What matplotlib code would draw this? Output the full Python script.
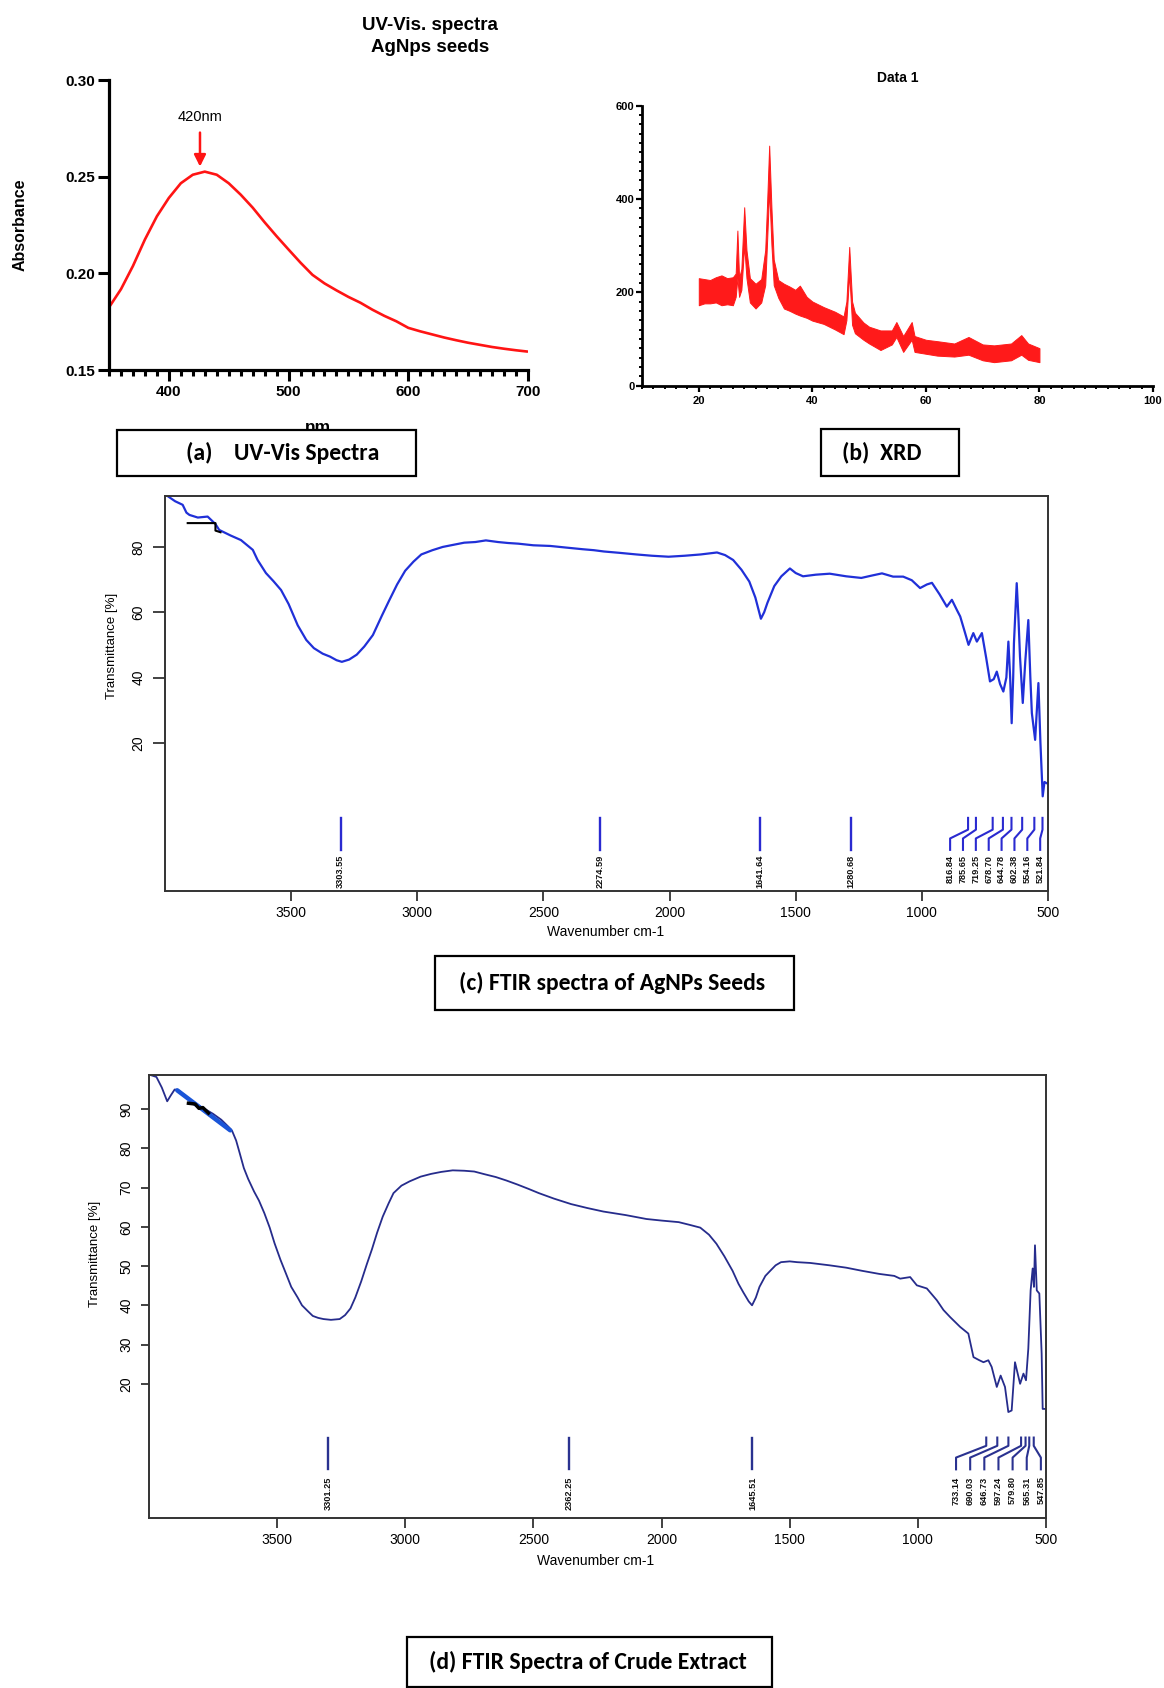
import matplotlib
matplotlib.use('Agg')
import numpy as np
import matplotlib.pyplot as plt
from matplotlib.patches import Rectangle
from matplotlib.ticker import MultipleLocator, FormatStrFormatter
from matplotlib import font_manager

plt.rcParams['font.family'] = ['Liberation Sans', 'DejaVu Sans']

# ---------------- data ----------------
uv_nm = [350, 360, 370, 380, 390, 400, 410, 420, 430, 440, 450, 460, 470, 480,
         490, 500, 510, 520, 530, 540, 550, 560, 570, 580, 590, 600, 610, 620,
         630, 640, 650, 660, 670, 680, 690, 700]
uv_abs = [0.1824, 0.1918, 0.2038, 0.2175, 0.2295, 0.2390, 0.2466, 0.2510, 0.2526,
          0.2510, 0.2466, 0.2407, 0.2340, 0.2264, 0.2192, 0.2123, 0.2055, 0.1992,
          0.1948, 0.1912, 0.1878, 0.1848, 0.1812, 0.1780, 0.1752, 0.1718, 0.1700,
          0.1684, 0.1668, 0.1654, 0.1641, 0.1630, 0.1619, 0.1610, 0.1602, 0.1595]
uv_peak_nm = 426
uv_peak_label = '420nm'

xrd_2theta = [20.0, 21.0, 22.0, 23.0, 24.0, 25.0, 26.0, 26.5, 26.8, 27.1, 27.5, 28.0,
              28.4, 29.0, 30.0, 31.0, 31.7, 32.0, 32.4, 32.8, 33.2, 34.0, 35.0, 36.0,
              37.0, 37.8, 39.0, 40.0, 42.0, 44.0, 45.5, 46.0, 46.5, 47.0, 47.5, 49.0,
              50.0, 52.0, 54.0, 54.8, 56.0, 57.5, 58.0, 60.0, 62.0, 65.0, 67.5, 70.0,
              72.0, 75.0, 76.8, 78.0, 80.0]
xrd_upper = [230, 228, 226, 232, 236, 230, 232, 240, 332, 230, 250, 382,
             290, 230, 218, 228, 290, 380, 514, 380, 270, 226, 218, 212,
             205, 214, 190, 180, 168, 158, 148, 180, 297, 180, 156, 135,
             126, 118, 118, 136, 106, 136, 106, 98, 95, 90, 104, 88,
             86, 90, 108, 90, 80]
xrd_lower = [172, 176, 176, 178, 172, 174, 172, 190, 230, 190, 205, 300,
             230, 178, 165, 178, 215, 300, 420, 300, 215, 188, 165, 160,
             154, 150, 145, 139, 132, 120, 110, 140, 240, 130, 112, 98,
             90, 76, 88, 104, 72, 98, 72, 68, 64, 62, 66, 54,
             50, 54, 66, 55, 50]

c_wn = [3990, 3960, 3930, 3915, 3903, 3870, 3831, 3800, 3785, 3740, 3699, 3652, 3633,
        3600, 3570, 3540, 3510, 3474, 3440, 3410, 3375, 3346, 3320, 3299, 3270, 3240,
        3210, 3176, 3140, 3112, 3080, 3048, 3015, 2984, 2940, 2899, 2860, 2814, 2770,
        2728, 2680, 2640, 2600, 2540, 2473, 2410, 2345, 2300, 2260, 2200, 2132, 2070,
        2004, 1940, 1876, 1812, 1780, 1748, 1715, 1684, 1660, 1638, 1625, 1612, 1585,
        1557, 1523, 1500, 1471, 1420, 1365, 1300, 1240, 1200, 1158, 1114, 1074, 1040,
        1007, 980, 960, 930, 901, 881, 860, 848, 830, 815, 796, 782, 762, 745, 730,
        715, 703, 690, 677, 665, 657, 650, 644, 638, 635, 624, 617, 611, 600, 590,
        578, 570, 564, 551, 538, 530, 521, 514, 505, 500]
c_T = [95.6, 94.0, 92.9, 90.5, 89.8, 89.0, 89.3, 87.0, 85.2, 83.5, 82.1, 79.1, 76.0,
       72.0, 69.5, 66.8, 62.5, 56.0, 51.5, 49.0, 47.3, 46.4, 45.3, 44.8, 45.5, 47.0,
       49.5, 53.0, 59.0, 63.5, 68.5, 72.7, 75.5, 77.7, 79.0, 80.0, 80.6, 81.3, 81.5,
       82.0, 81.5, 81.2, 81.0, 80.5, 80.3, 79.8, 79.3, 79.0, 78.6, 78.2, 77.7, 77.3,
       77.0, 77.3, 77.7, 78.3, 77.5, 76.0, 73.0, 69.4, 64.5, 58.0, 60.0, 62.9, 68.0,
       71.0, 73.4, 72.0, 71.0, 71.5, 71.8, 71.0, 70.5, 71.2, 71.9, 70.9, 70.9, 69.8,
       67.4, 68.5, 69.0, 65.5, 61.7, 63.8, 60.5, 58.7, 54.0, 50.0, 53.6, 51.0, 53.6,
       46.0, 38.8, 39.5, 41.8, 38.0, 35.7, 40.0, 51.0, 40.0, 26.0, 40.0, 50.5, 68.9,
       58.0, 46.4, 32.2, 45.0, 57.6, 40.0, 29.1, 20.9, 38.3, 20.0, 3.6, 8.0, 7.6, 7.6]
c_peaks_single = [3303.55, 2274.59, 1641.64, 1280.68]
c_peaks_group = [816.84, 785.65, 719.25, 678.70, 644.78, 602.38, 554.16, 521.84]

d_wn = [4000, 3985, 3971, 3950, 3929, 3915, 3900, 3887, 3860, 3845, 3810, 3781, 3750,
        3718, 3690, 3676, 3660, 3647, 3630, 3613, 3590, 3571, 3550, 3529, 3510, 3487,
        3465, 3445, 3420, 3403, 3380, 3361, 3340, 3319, 3290, 3256, 3235, 3214, 3195,
        3172, 3150, 3130, 3110, 3088, 3065, 3046, 3015, 2983, 2940, 2899, 2860, 2815,
        2770, 2731, 2690, 2647, 2605, 2563, 2520, 2479, 2420, 2353, 2290, 2227, 2140,
        2059, 2000, 1933, 1890, 1849, 1815, 1786, 1755, 1723, 1700, 1681, 1660, 1647,
        1632, 1618, 1595, 1576, 1555, 1534, 1500, 1471, 1420, 1345, 1280, 1218, 1150,
        1092, 1069, 1030, 1004, 965, 926, 900, 874, 835, 803, 783, 760, 744, 725, 712,
        692, 677, 660, 647, 634, 621, 601, 588, 578, 569, 560, 552, 547, 543, 536, 526,
        517, 513, 504, 500]
d_T = [98.8, 98.5, 98.2, 95.5, 92.0, 93.5, 95.0, 94.9, 93.5, 92.7, 91.0, 90.0, 88.8,
       87.3, 85.5, 84.5, 82.0, 79.0, 75.0, 72.2, 69.0, 66.7, 63.5, 59.8, 55.8, 51.6,
       48.0, 44.7, 42.0, 40.0, 38.5, 37.3, 36.8, 36.5, 36.3, 36.5, 37.5, 39.2, 42.0,
       46.1, 50.5, 54.3, 58.5, 62.6, 66.0, 68.6, 70.5, 71.6, 72.8, 73.5, 74.0, 74.4,
       74.3, 74.1, 73.4, 72.7, 71.8, 70.8, 69.7, 68.6, 67.2, 65.8, 64.8, 63.9, 63.0,
       62.0, 61.6, 61.2, 60.5, 59.8, 58.0, 55.7, 52.5, 48.8, 45.5, 43.3, 41.0, 40.0,
       42.0, 44.7, 47.5, 48.8, 50.2, 51.0, 51.2, 51.0, 50.8, 50.2, 49.6, 48.8, 48.0,
       47.5, 46.8, 47.2, 45.1, 44.3, 41.3, 38.8, 37.0, 34.5, 32.8, 26.8, 26.0, 25.5,
       26.0, 24.3, 19.2, 22.1, 19.2, 12.8, 13.2, 25.5, 20.0, 22.6, 20.9, 29.0, 43.8,
       49.4, 44.7, 55.3, 43.8, 43.0, 27.7, 13.6, 13.6, 13.6]
d_peaks_single = [3301.25, 2362.25, 1645.51]
d_peaks_group = [733.14, 690.03, 646.73, 597.24, 579.80, 565.31, 547.85]

# small scanning artefacts visible in the original FTIR images
c_art_wn = [3910, 3800, 3800, 3780]
c_art_T = [87.3, 87.3, 85.0, 84.5]
d_blue_wn = [3890, 3683]
d_blue_T = [94.8, 84.6]
d_black_wn = [3846, 3820, 3805, 3790, 3768]
d_black_T = [91.5, 91.3, 90.2, 90.4, 89.0]

# ---------------- layout helpers ----------------
W, H = 1164, 1688
fig = plt.figure(figsize=(W / 100, H / 100), dpi=100)
fig.patch.set_facecolor('white')


def add_ax(x0, y0, x1, y1):
    return fig.add_axes([x0 / W, 1 - y1 / H, (x1 - x0) / W, (y1 - y0) / H])


def ftext(x, y, s, **kw):
    return fig.text(x / W, 1 - y / H, s, **kw)


names = {f.name for f in font_manager.fontManager.ttflist}
NARROW = 'Liberation Sans Narrow' if 'Liberation Sans Narrow' in names else None
BOXFONT = ['Carlito', 'Lato', 'DejaVu Sans'] if 'Carlito' in names else ['Lato', 'DejaVu Sans']
if NARROW:
    peak_font = dict(family=[NARROW, 'DejaVu Sans'], fontsize=8, fontweight='bold')
else:
    peak_font = dict(family=['Liberation Sans'], fontsize=6.6, fontweight='bold')


def box(x0, y0, x1, y1, label, cx, fs=17):
    r = Rectangle((x0 / W, 1 - y1 / H), (x1 - x0) / W, (y1 - y0) / H,
                  transform=fig.transFigure, facecolor='white', edgecolor='black',
                  lw=1.6, zorder=3)
    fig.add_artist(r)
    ftext(cx, (y0 + y1) / 2, label, ha='center', va='center', fontsize=fs,
          fontweight='bold', family=BOXFONT, zorder=4)


# ---------------- (a) UV-Vis ----------------
ax = add_ax(109, 80, 528, 370)
ax.plot(uv_nm, uv_abs, color='#ff1414', lw=1.9, solid_capstyle='butt')
ax.set_xlim(350, 700)
ax.set_ylim(0.15, 0.30)
for s in ['top', 'right']:
    ax.spines[s].set_visible(False)
for s in ['left', 'bottom']:
    ax.spines[s].set_linewidth(2.3)
ax.set_xticks([400, 500, 600, 700])
ax.xaxis.set_minor_locator(MultipleLocator(10))
ax.set_yticks([0.15, 0.20, 0.25, 0.30])
ax.yaxis.set_major_formatter(FormatStrFormatter('%.2f'))
ax.tick_params(axis='x', which='major', direction='out', width=2.2, length=8, pad=3, labelsize=11)
ax.tick_params(axis='x', which='minor', direction='out', width=2.2, length=4.5)
ax.tick_params(axis='y', which='major', direction='out', width=2.2, length=8, pad=2, labelsize=11)
for lab in ax.get_xticklabels() + ax.get_yticklabels():
    lab.set_fontweight('bold')
ax.annotate('', xy=(uv_peak_nm, 0.2552), xytext=(uv_peak_nm, 0.2728),
            arrowprops=dict(arrowstyle='-|>,head_width=0.35,head_length=0.7',
                            color='#ff1414', lw=1.8, shrinkA=0, shrinkB=0))
ax.text(uv_peak_nm, 0.2809, uv_peak_label, ha='center', va='center', fontsize=10.5)

ftext(430, 25, 'UV-Vis. spectra', ha='center', va='center', fontsize=13.5, fontweight='bold')
ftext(430, 48, 'AgNps seeds', ha='center', va='center', fontsize=13.5, fontweight='bold')
ftext(20, 225, 'Absorbance', ha='center', va='center', rotation=90, fontsize=11.5, fontweight='bold')
ftext(318, 420, 'nm', ha='center', va='top', fontsize=12.5, fontweight='bold', zorder=1)

# ---------------- (b) XRD ----------------
ax2 = add_ax(642, 105.5, 1153, 385.5)
ax2.fill_between(xrd_2theta, xrd_lower, xrd_upper, color='#ff1a1a', lw=0.7, edgecolor='#ff1a1a')
ax2.set_xlim(10, 100)
ax2.set_ylim(0, 600)
for s in ['top', 'right']:
    ax2.spines[s].set_visible(False)
for s in ['left', 'bottom']:
    ax2.spines[s].set_linewidth(2.0)
ax2.set_xticks([20, 40, 60, 80, 100])
ax2.xaxis.set_minor_locator(MultipleLocator(2))
ax2.set_yticks([0, 200, 400, 600])
ax2.yaxis.set_minor_locator(MultipleLocator(20))
ax2.tick_params(axis='both', which='major', direction='out', width=1.6, length=4.5, labelsize=8)
ax2.tick_params(axis='both', which='minor', direction='out', width=1.4, length=2.5)
ax2.tick_params(axis='y', which='major', pad=1)
ax2.tick_params(axis='x', which='major', pad=3)
for lab in ax2.get_xticklabels() + ax2.get_yticklabels():
    lab.set_fontweight('bold')
ftext(898, 78, 'Data 1', ha='center', va='center', fontsize=10, fontweight='bold')


# ---------------- FTIR helper ----------------
def ftir_style(a, ylim, yticks, ylen):
    a.set_xlim(4000, 500)
    a.set_ylim(*ylim)
    a.set_xticks([3500, 3000, 2500, 2000, 1500, 1000, 500])
    a.set_yticks(yticks)
    for s in a.spines.values():
        s.set_color('#333333')
        s.set_linewidth(1.4)
    a.tick_params(axis='x', direction='out', length=7, width=1.3, color='#333333', pad=4, labelsize=10)
    a.tick_params(axis='y', direction='out', length=ylen, width=1.3, color='#333333', pad=5, labelsize=10,
                  labelrotation=90)
    for lab in a.get_yticklabels():
        lab.set_va('center')


def draw_peaks(a, singles, group, label_pos, color, top, bot, bend1, bend2, ltop):
    for p in singles:
        a.plot([p, p], [top, bot], color=color, lw=1.7)
        a.text(p, ltop, f'{p:.2f}', rotation=90, ha='center', va='top', color='#111111', **peak_font)
    for p, lp in zip(group, label_pos):
        a.plot([p, p, lp, lp], [top, bend1, bend2, bot], color=color, lw=1.5)
        a.text(lp, ltop, f'{p:.2f}', rotation=90, ha='center', va='top', color='#111111', **peak_font)


# ---------------- (c) FTIR AgNPs ----------------
ax3 = add_ax(165, 496, 1048, 891)
ax3.plot(c_wn, c_T, color='#2030d8', lw=1.6)
ax3.plot(c_art_wn, c_art_T, color='black', lw=1.5)
ftir_style(ax3, (-25.4, 95.6), [20, 40, 60, 80], 9)
draw_peaks(ax3, c_peaks_single, c_peaks_group, np.linspace(888, 531, len(c_peaks_group)),
           '#2a2ad0', -3.0, -12.8, -6.6, -9.3, -14.4)
ftext(606, 932, 'Wavenumber cm-1', ha='center', va='center', fontsize=10)
ftext(112, 646, 'Transmittance [%]', ha='center', va='center', rotation=90, fontsize=9.5)

# ---------------- (d) FTIR crude extract ----------------
ax4 = add_ax(149, 1075, 1046, 1518)
ax4.plot(d_wn, d_T, color='#262c8c', lw=1.3)
ax4.plot(d_blue_wn, d_blue_T, color='#1a55d8', lw=3.2, solid_capstyle='round')
ax4.plot(d_black_wn, d_black_T, color='black', lw=2.5)
ftir_style(ax4, (-14.2, 98.7), [20, 30, 40, 50, 60, 70, 80, 90], 6)
draw_peaks(ax4, d_peaks_single, d_peaks_group, np.linspace(851, 520, len(d_peaks_group)),
           '#2a3290', 6.3, -1.8, 4.2, 1.2, -3.6)
ftext(596, 1561, 'Wavenumber cm-1', ha='center', va='center', fontsize=10)
ftext(95, 1254, 'Transmittance [%]', ha='center', va='center', rotation=90, fontsize=9.5)

# ---------------- caption boxes ----------------
box(117, 430, 416, 476, '(a)    UV-Vis Spectra', 283)
box(821, 429, 959, 476, '(b)  XRD', 882)
box(435, 956, 794, 1010, '(c) FTIR spectra of AgNPs Seeds', 612)
box(407, 1637, 772, 1687, '(d) FTIR Spectra of Crude Extract', 588)

fig.savefig('out.png', dpi=100, facecolor='white')
